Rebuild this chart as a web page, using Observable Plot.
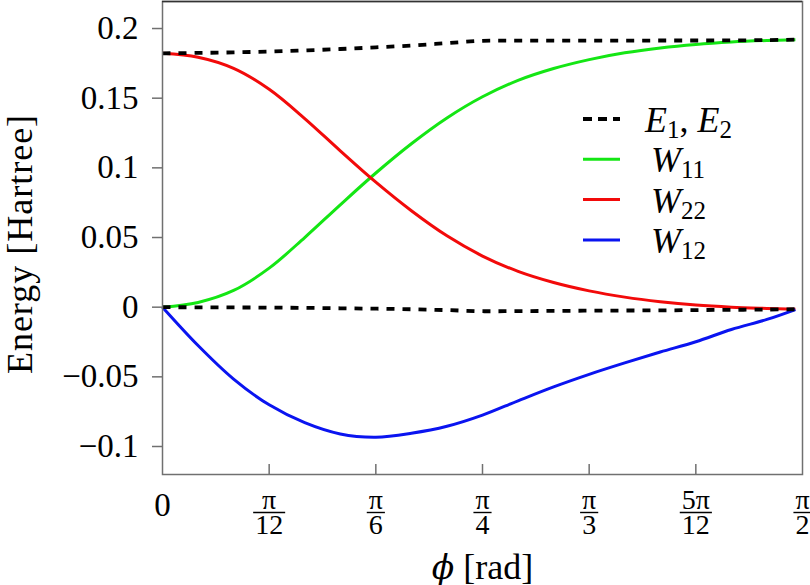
<!DOCTYPE html>
<html>
<head>
<meta charset="utf-8">
<script src="https://cdn.jsdelivr.net/npm/d3@7"></script>
<script src="https://cdn.jsdelivr.net/npm/@observablehq/plot@0.6"></script>
<style>
  html, body { margin: 0; padding: 0; background: #fff; }
  #chart { position: relative; width: 810px; height: 585px; }
</style>
</head>
<body>
<div id="chart"></div>
<script>
// Mixing angle φ (degrees) at which the energies were evaluated
const phiDeg = [0, 5, 10, 15, 20, 25, 30, 35, 40, 45, 50, 55, 60, 65, 70, 75, 80, 85, 89];

// Adiabatic energies E1, E2 and diabatic matrix elements W11, W22, W12 (Hartree)
const e1  = [0, -0.0001, -0.0002, -0.0003, -0.0005, -0.0008, -0.0011, -0.0015, -0.0021, -0.0029,
             -0.0028, -0.0027, -0.0025, -0.0024, -0.0023, -0.0021, -0.0019, -0.0017, -0.0015];
const e2  = [0.1822, 0.1825, 0.1829, 0.1835, 0.1843, 0.1853, 0.1865, 0.1878, 0.1895, 0.1912,
             0.1913, 0.1913, 0.1913, 0.1913, 0.1914, 0.1914, 0.1915, 0.1917, 0.1920];
const w11 = [0, 0.0034, 0.0120, 0.0280, 0.0500, 0.0735, 0.0963, 0.1173, 0.1358, 0.1510,
             0.1628, 0.1713, 0.1777, 0.1826, 0.1861, 0.1886, 0.1903, 0.1914, 0.1920];
const w22 = [0.1822, 0.1794, 0.1714, 0.1564, 0.1354, 0.1122, 0.0897, 0.0692, 0.0512, 0.0367,
             0.0257, 0.0177, 0.0117, 0.0072, 0.0039, 0.0015, 0.0000, -0.0009, -0.0015];
const w12 = [0, -0.0275, -0.0516, -0.0701, -0.0829, -0.0910, -0.0933, -0.0905, -0.0855, -0.0775,
             -0.0672, -0.0572, -0.0482, -0.0400, -0.0322, -0.0248, -0.0160, -0.0088, -0.0017];

// Axis ticks
const yTicks = [-0.1, -0.05, 0, 0.05, 0.1, 0.15, 0.2];
const yTickLabels = ["−0.1", "−0.05", "0", "0.05", "0.1", "0.15", "0.2"];
const xTickMultiples = [0, 1, 2, 3, 4, 5, 6];          // multiples of π/12
const xTickNum = ["0", "π", "π", "π", "π", "5π", "π"];
const xTickDen = ["", "12", "6", "4", "3", "12", "2"];

const GREEN = "#14e614", RED = "#f20a0a", BLUE = "#0a14f0", BLACK = "#000";

const series = [
  {key: "W11", values: w11, color: GREEN, dash: null, width: 3},
  {key: "W22", values: w22, color: RED,   dash: null, width: 3},
  {key: "W12", values: w12, color: BLUE,  dash: null, width: 3},
  {key: "E1",  values: e1,  color: BLACK, dash: "8,8", width: 3.8},
  {key: "E2",  values: e2,  color: BLACK, dash: "8,8", width: 3.8}
];

// Legend entries: [text, style] pieces, i = italic, s = subscript, n = normal
const legendItems = [
  {parts: [["E", "i"], ["1", "s"], [", ", "n"], ["E", "i"], ["2", "s"]], color: BLACK, dash: "9,6", width: 3.8},
  {parts: [["W", "i"], ["11", "s"]], color: GREEN, dash: null, width: 3},
  {parts: [["W", "i"], ["22", "s"]], color: RED,   dash: null, width: 3},
  {parts: [["W", "i"], ["12", "s"]], color: BLUE,  dash: null, width: 3}
];

const toRad = d => d * Math.PI / 180;
const xTickValues = xTickMultiples.map(k => k * Math.PI / 12);
const xTickData = xTickMultiples.map((k, i) => ({v: xTickValues[i], num: xTickNum[i], den: xTickDen[i]}));
const fracData = xTickData.filter(d => d.den !== "");
const plainData = xTickData.filter(d => d.den === "");

const FONT = "'Liberation Serif', 'DejaVu Serif', serif";
const X_LABEL = "ϕ [rad]";
const Y_LABEL = "Energy [Hartree]";

const lineMarks = series.map(s =>
  Plot.line(phiDeg.map((d, i) => ({phi: toRad(d), energy: s.values[i]})), {
    x: "phi", y: "energy",
    stroke: s.color, strokeWidth: s.width,
    strokeDasharray: s.dash, strokeLinecap: "butt",
    curve: "catmull-rom"
  })
);

const plot = Plot.plot({
  width: 810,
  height: 585,
  marginLeft: 162,
  marginRight: 8,
  marginTop: 1,
  marginBottom: 111,
  style: {fontFamily: FONT, color: "black", background: "white", overflow: "visible"},
  x: {domain: [0, Math.PI / 2], axis: null},
  y: {domain: [-0.1201, 0.2194], axis: null},
  marks: [
    ...lineMarks,
    Plot.frame({stroke: "#707070", strokeWidth: 1.5}),
    Plot.ruleY([0.2194], {stroke: "#333", strokeWidth: 1.5}),
    Plot.axisY(yTicks, {
      anchor: "left", tickSize: 10, tickPadding: 14,
      tickFormat: d => yTickLabels[yTicks.indexOf(d)],
      fontSize: 33, stroke: "#707070", strokeWidth: 1.5, label: null
    }),
    Plot.tickX(xTickValues.slice(1, -1), {x: d => d, stroke: "#707070", strokeWidth: 1.5, insetTop: 463}),
    Plot.text(plainData, {x: "v", text: "num", frameAnchor: "bottom", dy: 41, fontSize: 33}),
    Plot.text(fracData, {x: "v", text: "num", frameAnchor: "bottom", dy: 34, fontSize: 28}),
    Plot.text(fracData, {x: "v", text: "den", frameAnchor: "bottom", dy: 59, fontSize: 28}),
    Plot.text([X_LABEL], {text: d => d, frameAnchor: "bottom", dy: 104, fontSize: 36}),
    Plot.text([Y_LABEL], {text: d => d, frameAnchor: "left", textAnchor: "middle", rotate: -90, dx: -142, dy: 6, fontSize: 36})
  ]
});

document.getElementById("chart").appendChild(plot);
const svg = d3.select(plot);
const allText = svg.selectAll("text").nodes();

// Fraction bars between numerators and denominators
const nums = allText.filter(t => t.textContent.includes("π"));
const dens = allText.filter(t => fracData.some(d => d.den === t.textContent));
nums.forEach((n, i) => {
  const dnode = dens[i];
  if (!dnode) return;
  const a = n.getBBox(), b = dnode.getBBox();
  const ma = n.getCTM(), mb = dnode.getCTM();
  const cx = mb.e + b.x + b.width / 2;
  const w = Math.max(a.width, b.width) + 4;
  const numC = ma.f + a.y + a.height / 2;
  const denC = mb.f + b.y + b.height / 2;
  const yBar = (numC + denC) / 2 + 1;
  svg.append("line")
    .attr("x1", cx - w / 2).attr("x2", cx + w / 2)
    .attr("y1", yBar).attr("y2", yBar)
    .attr("stroke", "black").attr("stroke-width", 1.4);
});

// Italic φ in the x label
allText.filter(t => t.textContent === X_LABEL).forEach(node => {
  const t = d3.select(node);
  t.text(null);
  t.append("tspan").attr("font-style", "italic").attr("font-family", "'DejaVu Serif', serif").attr("font-size", 33).text("ϕ");
  t.append("tspan").text(" [rad]");
});

// Slightly wider tracking on the y label
allText.filter(t => t.textContent === Y_LABEL).forEach(node => {
  d3.select(node).attr("letter-spacing", "1px");
});

// Legend
const legend = svg.append("g").attr("font-family", FONT).attr("text-anchor", "start");
legendItems.forEach((item, i) => {
  const y0 = 119 + i * 40.3;
  legend.append("line")
    .attr("x1", 583).attr("x2", 620).attr("y1", y0).attr("y2", y0)
    .attr("stroke", item.color).attr("stroke-width", item.width)
    .attr("stroke-dasharray", item.dash);
  const txt = legend.append("text")
    .attr("x", i === 0 ? 645 : 651).attr("y", y0 + 13)
    .attr("font-size", 36);
  let inSub = false;
  item.parts.forEach(([s, kind]) => {
    const sp = txt.append("tspan").text(s);
    if (kind === "i") sp.attr("font-style", "italic");
    if (kind === "s") {
      sp.attr("font-size", 25).attr("dy", inSub ? 0 : 6);
      inSub = true;
    } else {
      sp.attr("dy", inSub ? -6 : 0);
      inSub = false;
    }
  });
});
</script>
</body>
</html>
